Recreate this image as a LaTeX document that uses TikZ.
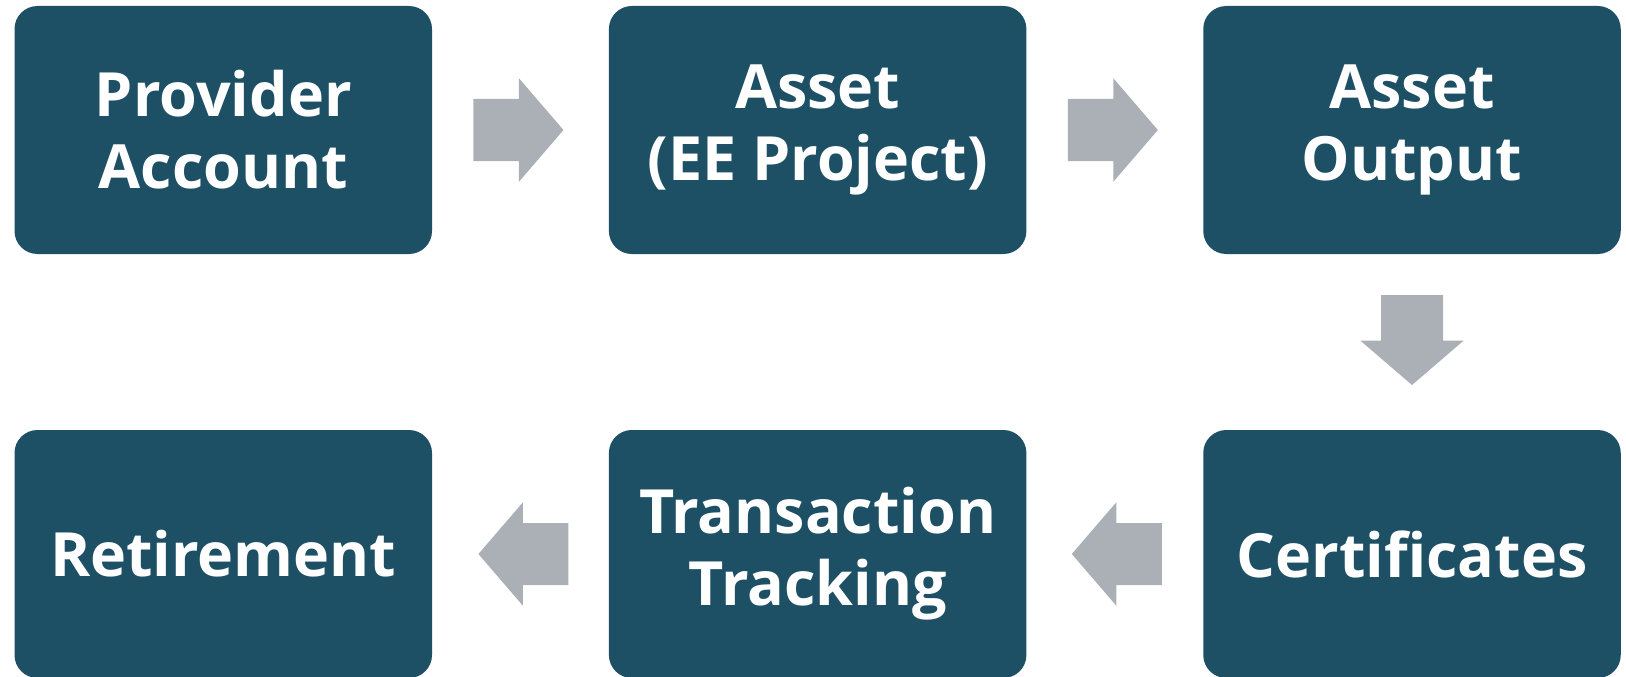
\documentclass[tikz,border=0pt]{standalone}
\usepackage{fontspec}
\setmainfont{Open Sans}
\usetikzlibrary{calc}
\definecolor{boxc}{HTML}{1D4F65}
\definecolor{arrowc}{HTML}{ABB0B6}
\tikzset{
  stepbox/.style={fill=boxc, rounded corners=23pt, minimum width=417.5pt, minimum height=248pt,
    inner sep=0pt, text=white, align=center, font=\fontsize{61}{72}\selectfont\bfseries},
  flowarrow/.pic={\fill[arrowc] (-45,-31) -- (0.5,-31) -- (0.5,-51.75) -- (45,0) -- (0.5,51.75) -- (0.5,31) -- (-45,31) -- cycle;}
}
\begin{document}
\begin{tikzpicture}[x=1pt,y=-1pt]
\clip (0,0) rectangle (1626,677);
\fill[white] (0,0) rectangle (1626,677);
\node[stepbox] (b1) at (223.25,130) {Provider\\Account};
\node[stepbox] (b2) at (817.65,130) {Asset\\(EE Project)};
\node[stepbox] (b3) at (1412,130) {Asset\\Output};
\node[stepbox] (b4) at (1412,554) {Certificates};
\node[stepbox] (b5) at (817.65,554) {Transaction\\Tracking};
\node[stepbox] (b6) at (223.25,554) {Retirement};
\path (b1.east) -- (b2.west) coordinate[midway] (m12);
\path (b2.east) -- (b3.west) coordinate[midway] (m23);
\path (b3.south) -- (b4.north) coordinate[midway] (m34);
\path (b4.west) -- (b5.east) coordinate[midway] (m45);
\path (b5.west) -- (b6.east) coordinate[midway] (m56);
\pic at ($(m12)+(-2,0)$) {flowarrow};
\pic at ($(m23)+(-2,0)$) {flowarrow};
\pic[rotate=-90] at ($(m34)+(0,-2)$) {flowarrow};
\pic[rotate=180] at ($(m45)+(2,0)$) {flowarrow};
\pic[rotate=180] at ($(m56)+(3,0)$) {flowarrow};
\end{tikzpicture}
\end{document}
